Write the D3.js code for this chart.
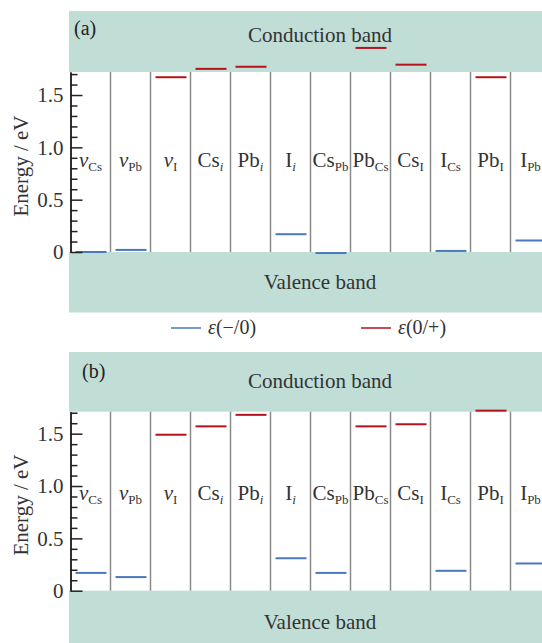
<!DOCTYPE html>
<html>
<head>
<meta charset="utf-8">
<script src="https://cdn.jsdelivr.net/npm/d3@7"></script>
<style>
  body { margin: 0; background: #fff; }
  text { font-family: "Liberation Serif", "Times New Roman", serif; fill: #333; }
</style>
</head>
<body>
<script>
var w = 542;
var h = 643;

// defect names (main part + subscript)
var categories = ["vCs","vPb","vI","Csi","Pbi","Ii","CsPb","PbCs","CsI","ICs","PbI","IPb"];
var labelMain  = ["v","v","v","Cs","Pb","I","Cs","Pb","Cs","I","Pb","I"];
var labelSub   = ["Cs","Pb","I","i","i","i","Pb","Cs","I","Cs","I","Pb"];

// transition levels, eV (null = none)
var minusA = [0.00, 0.02, null, null, null, 0.17, -0.01, null, null, 0.01, null, 0.11];
var plusA  = [null, null, 1.67, 1.75, 1.77, null, null, 1.95, 1.79, null, 1.67, null];
var minusB = [0.17, 0.13, null, null, null, 0.31, 0.17, null, null, 0.19, null, 0.26];
var plusB  = [null, null, 1.49, 1.57, 1.68, null, null, 1.57, 1.59, null, 1.72, null];

var majorTicks = [0, 0.5, 1.0, 1.5];
var minorTicks = [0.1,0.2,0.3,0.4,0.6,0.7,0.8,0.9,1.1,1.2,1.3,1.4,1.6,1.7];

var blue = "#4a78c0";
var red = "#b5121b";
var teal = "#c0ddd6";

var svg = d3.select("body").append("svg")
    .attr("width", w)
    .attr("height", h);

var x = d3.scaleBand()
    .domain(categories)
    .range([70.5, 550.5]);

function panel(p) {
    var y = d3.scaleLinear()
        .domain([0, p.ymax])
        .range([p.zero, p.plotTop]);

    var g = svg.append("g");

    // conduction / valence bands
    g.append("rect").attr("x", 69).attr("y", p.top)
        .attr("width", w - 69).attr("height", p.plotTop - p.top).attr("fill", teal);
    g.append("rect").attr("x", 69).attr("y", p.zero)
        .attr("width", w - 69).attr("height", p.bottom - p.zero).attr("fill", teal);

    g.append("text").attr("x", 320).attr("y", p.cbY)
        .attr("text-anchor", "middle").style("font-size", "21px").text("Conduction band");
    g.append("text").attr("x", 320).attr("y", p.vbY)
        .attr("text-anchor", "middle").style("font-size", "21px").text("Valence band");
    g.append("text").attr("x", p.tagX).attr("y", p.tagY)
        .style("font-size", "20px").style("fill", "#222").text(p.tag);

    // column separators
    g.selectAll("line.sep")
        .data(categories.slice(1))
        .enter().append("line")
        .attr("class", "sep")
        .attr("x1", function(d){ return x(d); })
        .attr("x2", function(d){ return x(d); })
        .attr("y1", p.plotTop)
        .attr("y2", p.zero)
        .attr("stroke", "#8a8a8a")
        .attr("stroke-width", 1.5);

    // column labels
    var lab = g.selectAll("text.lab")
        .data(categories)
        .enter().append("text")
        .attr("class", "lab")
        .attr("x", function(d){ return x(d) + x.bandwidth()/2; })
        .attr("y", p.labY)
        .attr("text-anchor", "middle")
        .style("font-size", "21px");
    lab.append("tspan")
        .style("font-style", function(d,i){ return labelMain[i] === "v" ? "italic" : "normal"; })
        .text(function(d,i){ return labelMain[i]; });
    lab.append("tspan")
        .attr("dy", 4)
        .style("font-size", "13px")
        .style("font-style", function(d,i){ return labelSub[i] === "i" ? "italic" : "normal"; })
        .text(function(d,i){ return labelSub[i]; });

    // levels
    function levels(vals, col) {
        g.selectAll(null)
            .data(categories.map(function(c,i){ return {c: c, v: vals[i]}; })
                  .filter(function(d){ return d.v !== null; }))
            .enter().append("line")
            .attr("x1", function(d){ return x(d.c) + 5; })
            .attr("x2", function(d){ return x(d.c) + x.bandwidth() - 4; })
            .attr("y1", function(d){ return y(d.v); })
            .attr("y2", function(d){ return y(d.v); })
            .attr("stroke", col)
            .attr("stroke-width", 2);
    }
    levels(p.minus, blue);
    levels(p.plus, red);

    // axis: minor ticks and major ticks in separate groups
    g.append("g").attr("transform", "translate(70.5,0)")
        .call(d3.axisLeft(y)
            .tickValues(minorTicks)
            .tickSizeInner(-7)
            .tickSizeOuter(0)
            .tickFormat(""));
    var ax = g.append("g").attr("transform", "translate(70.5,0)");
    ax.call(d3.axisLeft(y)
        .tickValues(majorTicks)
        .tickSizeInner(-12)
        .tickSizeOuter(0)
        .tickPadding(7)
        .tickFormat(function(d){ return d === 0 ? "0" : d3.format(".1f")(d); }));
    g.selectAll("path.domain").attr("stroke", "#222").attr("stroke-width", 1.5);
    g.selectAll(".tick line").attr("stroke", "#222").attr("stroke-width", 1.5);
    ax.selectAll(".tick text")
        .style("font-family", "Liberation Serif")
        .style("font-size", "21px")
        .attr("fill", "#333");

    g.append("text")
        .attr("transform", "translate(28," + p.titleY + ") rotate(-90)")
        .attr("text-anchor", "middle")
        .style("font-size", "21px")
        .text("Energy / eV");
}

panel({tag: "(a)", tagX: 74, tagY: 35, top: 11, plotTop: 72, zero: 252, bottom: 312.5, ymax: 1.72,
       cbY: 42, vbY: 289, labY: 167, titleY: 166, minus: minusA, plus: plusA});
panel({tag: "(b)", tagX: 82, tagY: 378, top: 352, plotTop: 411.7, zero: 590.7, bottom: 660, ymax: 1.71,
       cbY: 388, vbY: 629, labY: 500, titleY: 505, minus: minusB, plus: plusB});

// legend
var legend = svg.append("g");
var legItems = [{x: 171, col: blue, label: "(−/0)"}, {x: 361, col: red, label: "(0/+)"}];
var li = legend.selectAll("g")
    .data(legItems)
    .enter().append("g");
li.append("line")
    .attr("x1", function(d){ return d.x; })
    .attr("x2", function(d){ return d.x + 30; })
    .attr("y1", 328).attr("y2", 328)
    .attr("stroke", function(d){ return d.col; })
    .attr("stroke-width", 1.5);
var lt = li.append("text")
    .attr("x", function(d){ return d.x + 37; })
    .attr("y", 334)
    .style("font-size", "20px");
lt.append("tspan").style("font-style", "italic").text("ε");
lt.append("tspan").text(function(d){ return d.label; });
</script>
</body>
</html>
